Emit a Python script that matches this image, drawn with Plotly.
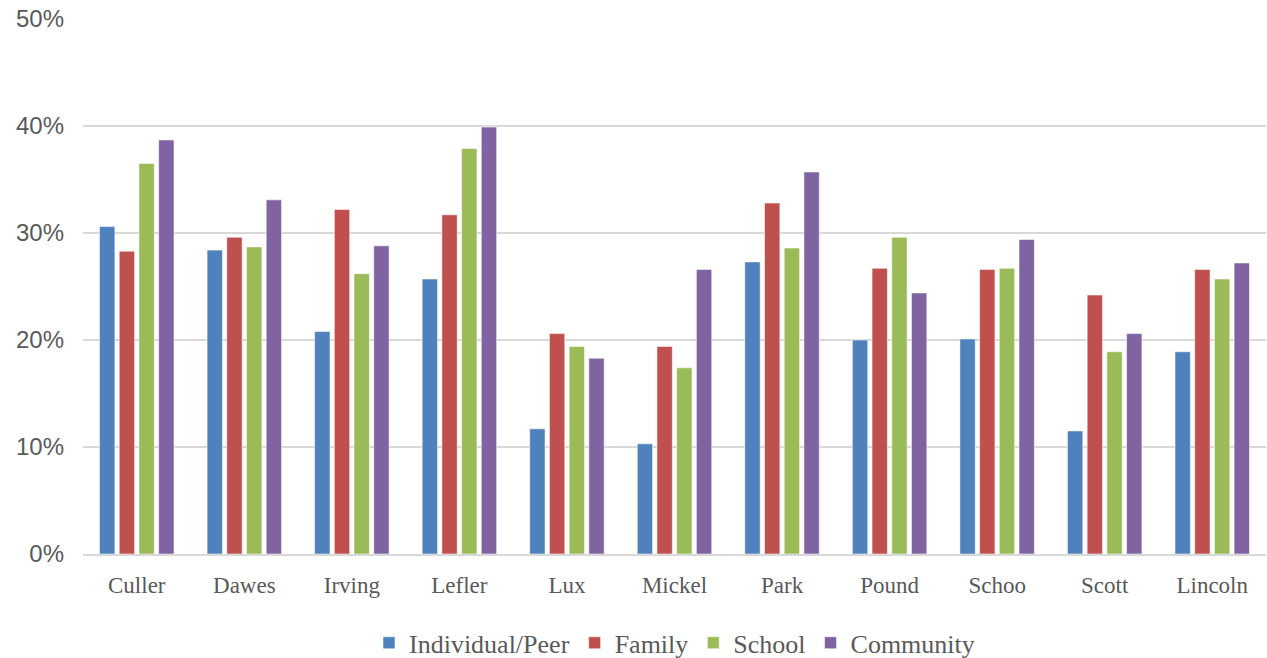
import plotly.graph_objects as go

schools = ["Culler", "Dawes", "Irving", "Lefler", "Lux", "Mickel", "Park", "Pound", "Schoo", "Scott", "Lincoln"]
individual_peer = [30.6, 28.4, 20.8, 25.7, 11.7, 10.3, 27.3, 20.0, 20.1, 11.5, 18.9]
family = [28.3, 29.6, 32.2, 31.7, 20.6, 19.4, 32.8, 26.7, 26.6, 24.2, 26.6]
school = [36.5, 28.7, 26.2, 37.9, 19.4, 17.4, 28.6, 29.6, 26.7, 18.9, 25.7]
community = [38.7, 33.1, 28.8, 39.9, 18.3, 26.6, 35.7, 24.4, 29.4, 20.6, 27.2]

series = [
    ("Individual/Peer", individual_peer, "#4F81BD"),
    ("Family", family, "#C0504D"),
    ("School", school, "#9BBB59"),
    ("Community", community, "#8064A2"),
]

fig = go.Figure()
for name, vals, color in series:
    fig.add_trace(go.Bar(
        x=schools, y=vals, name=name,
        marker=dict(color=color, line=dict(color="rgba(255,255,255,0.55)", width=1)),
    ))

fig.update_layout(
    width=1267, height=658,
    margin=dict(l=83, r=1, t=19, b=104),
    paper_bgcolor="white", plot_bgcolor="white",
    barmode="group", bargap=0.267, bargroupgap=0.22,
    showlegend=True,
    legend=dict(
        orientation="h", xanchor="center", x=0.5,
        yref="container", yanchor="middle", y=0.023,
        font=dict(family="Liberation Serif", size=26, color="#595959"),
        itemwidth=30, tracegroupgap=0,
    ),
    xaxis=dict(
        showgrid=False, showline=True, linecolor="#d9d9d9", linewidth=1.5,
        tickfont=dict(family="Liberation Serif", size=23, color="#595959"),
        ticks="", ticklabelstandoff=10,
    ),
    yaxis=dict(
        range=[0, 50], dtick=10, ticksuffix="%",
        showgrid=True, gridcolor="#d9d9d9", gridwidth=1.5,
        zeroline=False, showline=False,
        tickfont=dict(family="Liberation Sans", size=24, color="#595959"),
        ticks="", ticklabelstandoff=18,
    ),
)

fig.write_html("out.html")
